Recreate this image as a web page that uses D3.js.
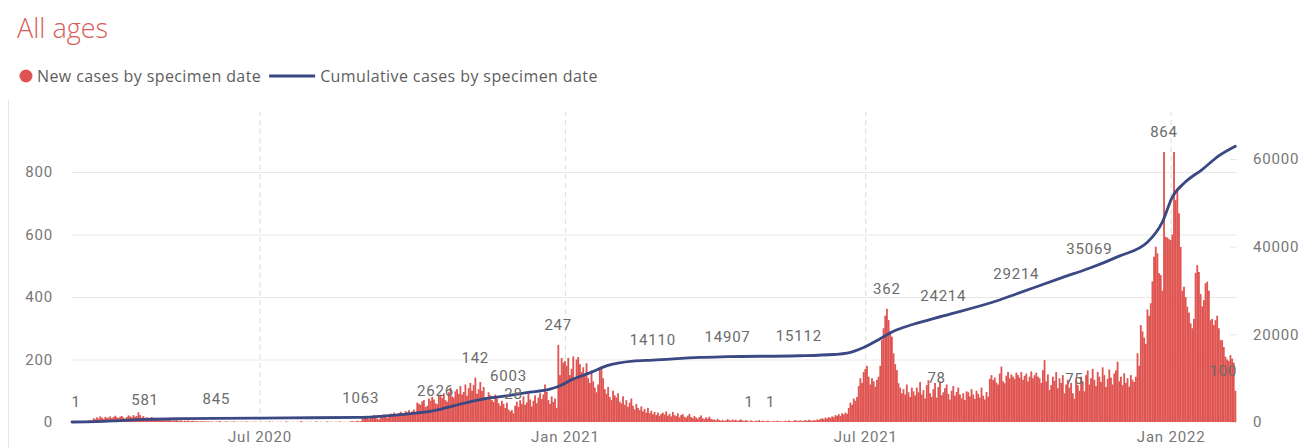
<!DOCTYPE html>
<html>
<head>
<meta charset="utf-8">
<script src="https://cdn.jsdelivr.net/npm/d3@7"></script>
<style>
  body { margin: 0; background: #fff; }
  .container { width: 1314px; height: 448px; }
  .num { font-family: Roboto, "DejaVu Sans", sans-serif; letter-spacing: 0.8px; }
  .ui { font-family: "Open Sans", "Noto Sans", sans-serif; }
</style>
</head>
<body>
<div class="container"></div>
<script>
const w = 1314
const h = 448

// daily new cases, one array per month (Mar 2020 starts on the 10th)
const mar2020 = [1,0,1,2,1,2,3,2,4,3,5,6,4,12,9,15,11,18,14,10,16,13]
const apr2020 = [14,18,12,16,20,15,13,17,19,14,11,16,21,18,15,22,17,19,31,22,14,19,12,15,10,13,16,9,11,8]
const may2020 = [6,8,5,9,4,7,5,6,3,5,4,6,3,4,5,2,4,3,5,2,3,4,2,3,2,1,3,2,2,1,2]
const jun2020 = [1,2,1,0,2,1,3,1,0,1,2,1,0,1,1,2,0,1,0,1,1,0,2,1,0,1,0,1,1,0]
const jul2020 = [0,1,0,0,1,0,2,0,1,0,0,1,0,1,0,0,2,1,0,0,1,0,0,1,0,3,1,0,0,1,0]
const aug2020 = [1,0,0,2,1,0,1,0,0,1,2,0,1,0,0,1,0,2,1,0,1,0,0,1,2,3,1,2,4,2,3]
const sep2020 = [12,18,20,15,9,14,19,22,17,11,8,16,21,24,18,13,20,27,25,30,22,19,28,33,26,24,35,31,38,29]
const oct2020 = [34,40,28,62,58,55,66,70,48,52,75,68,80,72,60,57,84,88,76,92,70,65,95,110,82,78,98,105,90,115,88]
const nov2020 = [96,120,84,108,125,100,118,142,90,105,128,99,112,80,72,95,86,70,64,88,75,60,52,68,58,45,62,40,34,38]
const dec2020 = [28,52,65,48,70,58,82,55,63,90,72,50,68,85,60,78,92,74,88,120,96,70,58,82,64,75,45,247,150,205,190]
const jan2021 = [195,180,205,150,170,210,140,200,208,185,160,175,150,188,140,125,165,130,110,95,120,168,175,140,105,90,112,80,70,100,85]
const feb2021 = [78,92,65,60,82,55,70,48,62,75,52,40,58,45,38,50,34,42,30,45,28,36,25,32,22,30,20,26]
const mar2021 = [30,24,34,20,26,18,32,22,19,28,15,22,25,17,14,20,26,16,12,19,14,10,16,21,12,9,15,11,17,10,8]
const apr2021 = [8,5,10,6,4,7,3,5,9,6,4,8,5,7,3,6,8,5,3,6,4,1,5,3,2,4,3,6,2,4]
const may2021 = [3,2,4,3,1,2,3,2,4,2,3,1,2,4,2,5,3,2,4,6,3,4,5,3,4,6,4,7,5,4,6]
const jun2021 = [5,8,6,10,12,9,14,11,16,13,18,15,22,20,25,19,28,24,30,26,45,62,55,75,68,80,115,140,125,160]
const jul2021 = [170,179,145,120,140,130,113,135,145,180,262,300,340,362,326,290,273,220,185,166,124,110,92,105,88,120,95,80,110,98,85]
const aug2021 = [110,95,128,88,102,75,118,134,92,80,105,125,78,112,130,86,95,108,120,90,72,100,115,84,96,110,88,76,92,70,98]
const sep2021 = [95,82,105,88,74,100,90,78,110,84,72,96,81,138,150,134,142,126,120,155,177,130,124,148,160,140,152,145,138,158]
const oct2021 = [150,142,160,135,148,155,130,145,162,140,150,158,145,140,125,166,198,130,152,102,118,145,132,160,108,140,125,150,92,120,135]
const nov2021 = [110,125,92,75,140,118,100,145,130,98,150,165,120,140,170,135,115,160,145,128,175,150,112,138,168,142,120,155,165,193]
const dec2021 = [130,145,118,156,125,140,113,150,135,128,145,220,180,310,290,270,250,360,340,380,450,529,561,540,476,470,420,864,593,590,585]
const jan2022 = [582,600,864,710,740,668,560,420,433,400,369,350,316,300,330,477,502,480,410,370,390,444,449,420,326,330,310,326,340,300,262]
const feb2022 = [262,240,209,200,195,214,203,190,100]

const monthStarts = ["2020-03-10","2020-04-01","2020-05-01","2020-06-01","2020-07-01","2020-08-01","2020-09-01",
  "2020-10-01","2020-11-01","2020-12-01","2021-01-01","2021-02-01","2021-03-01","2021-04-01","2021-05-01",
  "2021-06-01","2021-07-01","2021-08-01","2021-09-01","2021-10-01","2021-11-01","2021-12-01","2022-01-01","2022-02-01"]
const monthValues = [mar2020,apr2020,may2020,jun2020,jul2020,aug2020,sep2020,oct2020,nov2020,dec2020,jan2021,feb2021,
  mar2021,apr2021,may2021,jun2021,jul2021,aug2021,sep2021,oct2021,nov2021,dec2021,jan2022,feb2022]

// cumulative cases
const cumDates = ["2020-03-10","2020-03-25","2020-04-08","2020-04-23","2020-05-15","2020-06-05","2020-07-19","2020-08-31",
  "2020-09-15","2020-09-24","2020-10-15","2020-10-26","2020-11-15","2020-11-28","2020-12-09","2020-12-23","2020-12-28",
  "2021-01-06","2021-01-16","2021-01-26","2021-02-11","2021-02-23","2021-03-23","2021-04-09","2021-05-22","2021-06-12",
  "2021-06-20","2021-06-30","2021-07-10","2021-07-18","2021-07-30","2021-08-17","2021-09-18","2021-09-30","2021-10-28",
  "2021-11-13","2021-12-01","2021-12-18","2021-12-27","2022-01-02","2022-01-10","2022-01-20","2022-01-30","2022-02-09"]
const cumValues = [1,100,330,581,760,845,940,1063,
  1400,1700,2626,3700,5400,6003,6700,7500,8100,
  9800,11200,12800,13900,14110,14750,14907,15112,15400,
  15700,17000,19000,20700,22300,24214,27600,29214,33000,
  35069,37850,41000,45600,51300,54800,57600,60700,62900]

// points that carry a data label
const newLabelDates = ["2020-11-08","2020-12-01","2020-12-28","2021-04-22","2021-05-05","2021-07-14","2021-08-13","2021-11-04","2021-12-28","2022-02-09"]
const cumLabelDates = ["2020-03-10","2020-04-23","2020-06-05","2020-08-31","2020-10-15","2020-11-28","2021-02-23","2021-04-09","2021-05-22","2021-08-17","2021-09-30","2021-11-13"]

const xTicks = ["2020-07-01","2021-01-01","2021-07-01","2022-01-01"]
const leftTicks = [0,200,400,600,800]
const rightTicks = [0,20000,40000,60000]

const red = "#DF5450"
const navy = "#3A4883"

const parse = d3.utcParse("%Y-%m-%d")
const fmt = d3.utcFormat("%Y-%m-%d")

const daily = monthValues.flatMap((arr, k) => arr.map((v, i) => ({
  date: d3.utcDay.offset(parse(monthStarts[k]), i), value: v
})))
const cumulative = cumDates.map((d, i) => ({date: parse(d), value: cumValues[i]}))

const plotLeft = 72, plotRight = 1237, plotBottom = 422, plotTop = 109.5

const x = d3.scaleUtc()
            .domain([parse("2020-03-10"), parse("2022-02-10")])
            .range([plotLeft, plotRight])
const yLeft = d3.scaleLinear().domain([0, 1000]).range([plotBottom, plotTop])
const yRight = d3.scaleLinear().domain([0, 71300]).range([plotBottom, plotTop])
const step = x(parse("2020-03-11")) - x(parse("2020-03-10"))

const svg = d3.select(".container")
              .append("svg")
              .attr("width", w)
              .attr("height", h)

svg.append("defs").append("clipPath").attr("id", "plot")
   .append("rect").attr("x", 0).attr("y", 0).attr("width", plotRight).attr("height", h)

// faint left border
svg.append("line").attr("x1", 8.5).attr("x2", 8.5).attr("y1", 100).attr("y2", h)
   .attr("stroke", "#e6e6e6")

// title
svg.append("text")
   .attr("class", "ui")
   .attr("x", 17).attr("y", 38)
   .attr("font-size", 27).attr("font-weight", 300)
   .attr("fill", "#D65E5A")
   .text("All ages")

// legend
const legend = svg.append("g").attr("class", "ui").attr("font-size", 16)
                  .attr("letter-spacing", "0.4px").attr("fill", "#605E5C")
legend.append("circle").attr("cx", 26).attr("cy", 76).attr("r", 6.5).attr("fill", red)
const t1 = legend.append("text").attr("x", 37).attr("y", 76).attr("dy", "0.35em").text("New cases by specimen date")
const l1 = 37 + t1.node().getComputedTextLength() + 8
legend.append("line").attr("x1", l1).attr("x2", l1 + 46).attr("y1", 76).attr("y2", 76)
      .attr("stroke", navy).attr("stroke-width", 3)
legend.append("text").attr("x", l1 + 51).attr("y", 76).attr("dy", "0.35em").text("Cumulative cases by specimen date")

// horizontal gridlines
svg.append("g")
   .attr("transform", `translate(${plotLeft},0)`)
   .call(d3.axisLeft(yLeft).tickValues(leftTicks.filter(t => t > 0)).tickSize(-(plotRight - plotLeft)).tickFormat(""))
   .call(g => g.select(".domain").remove())
   .selectAll("line").attr("stroke", "#e8e8e8")

// x axis with dashed vertical gridlines
svg.append("g")
   .attr("class", "num")
   .attr("transform", `translate(0,${plotBottom})`)
   .call(d3.axisBottom(x).tickValues(xTicks.map(parse)).tickFormat(d3.utcFormat("%b %Y"))
           .tickSize(-(plotBottom - 112)).tickPadding(9))
   .call(g => g.select(".domain").remove())
   .call(g => g.selectAll("line").attr("stroke", "#dcdcdc").attr("stroke-dasharray", "5,4"))
   .call(g => g.selectAll("text").attr("font-size", 15).attr("fill", "#777"))

// left axis
svg.append("g")
   .attr("class", "num")
   .attr("transform", `translate(${plotLeft},0)`)
   .call(d3.axisLeft(yLeft).tickValues(leftTicks).tickSize(0).tickPadding(19))
   .call(g => g.select(".domain").remove())
   .call(g => g.selectAll("text").attr("font-size", 15).attr("fill", "#777"))

// right axis
svg.append("g")
   .attr("class", "num")
   .attr("transform", `translate(${plotRight},0)`)
   .call(d3.axisRight(yRight).tickValues(rightTicks).tickSize(-7).tickPadding(16).tickFormat(d3.format("d")))
   .call(g => g.select(".domain").remove())
   .call(g => g.selectAll("line").attr("stroke", "#e8e8e8"))
   .call(g => g.selectAll("text").attr("font-size", 15).attr("fill", "#777"))

// bars
svg.append("g")
   .selectAll("rect")
   .data(daily)
   .enter()
   .append("rect")
     .attr("x", d => x(d.date) - step / 2)
     .attr("y", d => yLeft(d.value))
     .attr("width", step + 0.15)
     .attr("height", d => plotBottom - yLeft(d.value))
     .attr("fill", red)

// cumulative line
svg.append("path")
   .datum(cumulative)
   .attr("fill", "none")
   .attr("stroke", navy)
   .attr("stroke-width", 2.8)
   .attr("stroke-linecap", "round")
   .attr("d", d3.line().x(d => x(d.date)).y(d => yRight(d.value)).curve(d3.curveMonotoneX))

// data labels
const byDate = new Map(daily.map(d => [fmt(d.date), d]))
const cumByDate = new Map(cumulative.map(d => [fmt(d.date), d]))
const labels = svg.append("g")
                  .attr("class", "num")
                  .attr("clip-path", "url(#plot)")
                  .attr("font-size", 15)
                  .attr("fill", "#6b6b6b")
                  .attr("text-anchor", "middle")

labels.selectAll("text.new")
      .data(newLabelDates.map(d => byDate.get(d)))
      .enter()
      .append("text")
        .attr("class", "new")
        .attr("x", (d, i) => x(d.date) - (i === newLabelDates.length - 1 ? 12 : 0))
        .attr("y", d => yLeft(d.value) - 20)
        .attr("dy", "0.35em")
        .text(d => d.value)

labels.selectAll("text.cum")
      .data(cumLabelDates.map(d => cumByDate.get(d)))
      .enter()
      .append("text")
        .attr("class", "cum")
        .attr("x", (d, i) => x(d.date) + (i === 0 ? 4 : 0))
        .attr("y", d => yRight(d.value) - 20)
        .attr("dy", "0.35em")
        .text(d => d.value)
</script>
</body>
</html>
